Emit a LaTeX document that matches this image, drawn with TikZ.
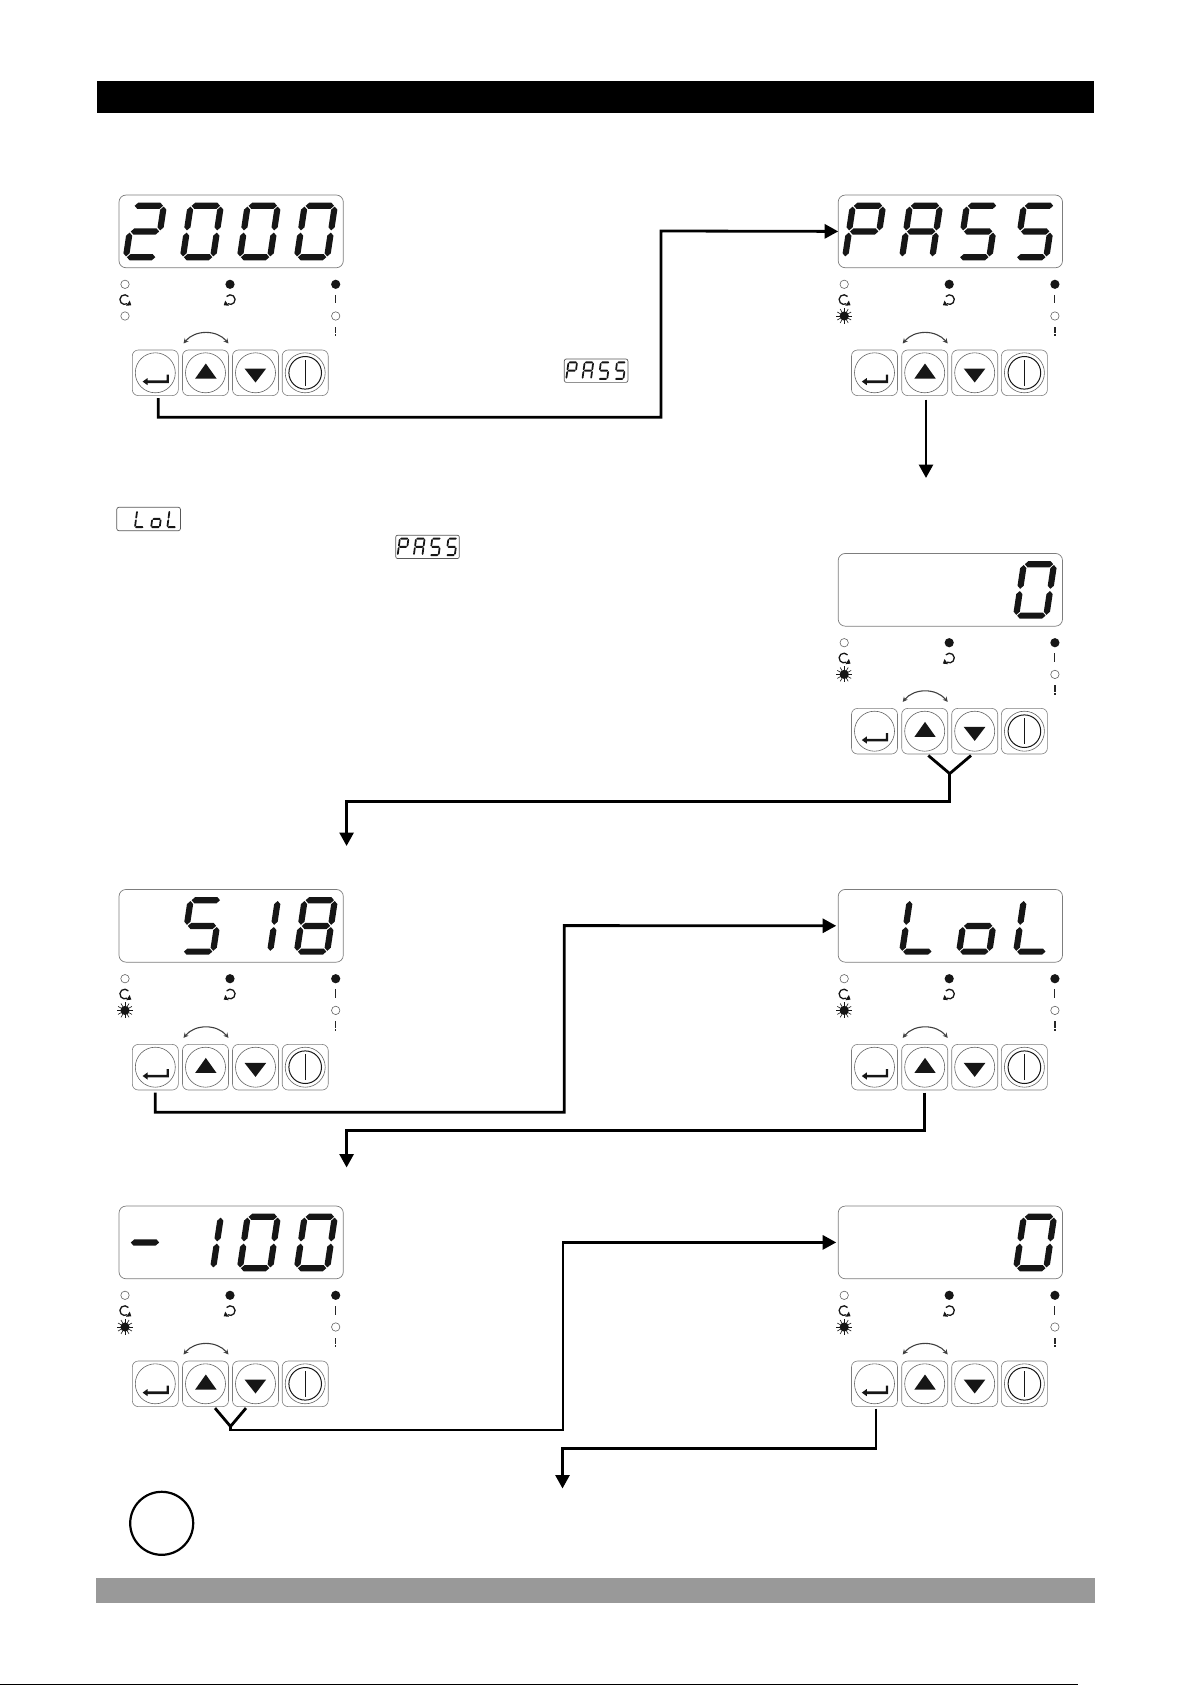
\documentclass[tikz,border=0pt]{standalone}
\usepackage{xcolor}
\usepackage{tikz}
\usetikzlibrary{arrows.meta,positioning,calc}
\definecolor{panelgray}{RGB}{125, 125, 125}
\definecolor{footgray}{RGB}{153, 153, 153}
\definecolor{segblack}{RGB}{22, 22, 22}

\tikzset{
    dispbox/.style={draw=panelgray, line width=0.7pt, rounded corners=7pt, inner sep=0pt, outer sep=0pt,
        minimum width=224.3pt, minimum height=72.7pt},
    keybox/.style={draw=panelgray, line width=0.6pt, rounded corners=6pt, inner sep=0pt, outer sep=0pt,
        minimum width=46pt, minimum height=45.6pt},
    keyline/.style={draw=panelgray!80!black, line width=0.6pt},
    thumbbox/.style={draw=panelgray!70!black, line width=0.7pt, rounded corners=2pt},
    flow/.style={line width=2.8pt, line join=miter, -{Triangle[length=13.5pt,width=14pt]}},
    branch/.style={line width=2.8pt},
    swap/.style={draw=black!75, line width=1.1pt, {Stealth[length=5pt,width=5pt]}-{Stealth[length=5pt,width=5pt]}},
    turn/.style={segblack, line width=1.3pt}
}

% Seven segments of one digit, baseline at 0, slanted by the caller
\newcommand{\segh}{3.1}
\newcommand{\seghoriz}[3]{\fill[segblack] (#1,#3) -- (#1+\segh,#3+\segh) -- (#2-\segh,#3+\segh) -- (#2,#3) -- (#2-\segh,#3-\segh) -- (#1+\segh,#3-\segh) -- cycle;}
\newcommand{\segvert}[3]{\fill[segblack] (#1,#2) -- (#1+\segh,#2+\segh) -- (#1+\segh,#3-\segh) -- (#1,#3) -- (#1-\segh,#3-\segh) -- (#1-\segh,#2+\segh) -- cycle;}
\newcommand{\dsega}{\seghoriz{3.8}{32.2}{54.2}}
\newcommand{\dsegb}{\segvert{33}{29.6}{53.4}}
\newcommand{\dsegc}{\segvert{33}{3.6}{27.4}}
\newcommand{\dsegd}{\seghoriz{3.8}{32.2}{2.8}}
\newcommand{\dsege}{\segvert{2.8}{3.6}{27.4}}
\newcommand{\dsegf}{\segvert{2.8}{29.6}{53.4}}
\newcommand{\dsegg}{\seghoriz{3.8}{32.2}{28.5}}

\newcommand{\glyphblank}{}
\newcommand{\glyphzero}{a,b,c,d,e,f}
\newcommand{\glyphone}{b,c}
\newcommand{\glyphtwo}{a,b,g,e,d}
\newcommand{\glypheight}{a,b,c,d,e,f,g}
\newcommand{\glyphfive}{a,f,g,c,d}
\newcommand{\glyphP}{a,b,g,f,e}
\newcommand{\glyphA}{a,b,c,e,f,g}
\newcommand{\glyphL}{f,e,d}
\newcommand{\glypho}{g,c,d,e}
\newcommand{\glyphdash}{g}

\newcommand{\sevenseg}[2]{%
    \begin{scope}[shift={(#1,65)}, y=1pt, xslant=0.15]
        \foreach \s in #2 {\csname dseg\s\endcsname}
    \end{scope}}
\newcommand{\dispword}[4]{\sevenseg{3.7}{#1}\sevenseg{60.7}{#2}\sevenseg{117.7}{#3}\sevenseg{174.7}{#4}}

% Indicator lamps
\newcommand{\ledoff}[2]{\draw[keyline] (#1,#2) circle (4.2pt);}
\newcommand{\ledon}[2]{\fill[segblack] (#1,#2) circle (4.6pt);}
\newcommand{\ledblink}[2]{%
    \fill[segblack] (#1,#2) circle (4.6pt);
    \foreach \a in {0,30,...,330} \draw[segblack, line width=0.6pt] ($(#1,#2)+(\a:4pt)$) -- ($(#1,#2)+(\a:8pt)$);}

% Turning mark beside a lamp: centre, then 1 or -1 for its sense
\newcommand{\turnmark}[3]{%
    \begin{scope}[shift={(#1,#2)}, y=1pt, xscale=#3]
        \draw[turn] (40:4.8) arc (40:300:4.8);
        \fill[segblack] (1.5,-6.2) -- (6.6,-5.6) -- (5,-1) -- cycle;
    \end{scope}}

% One whole front panel: name, left, top, digits, state of the lower left lamp
\newcommand{\panel}[5]{%
    \begin{scope}[shift={(#2,#3)}]
        \node[dispbox] (#1-disp) at (112.15,36.4) {};
        #4
        % Lamps and their marks
        \ledoff{6}{89.3}
        \turnmark{5.7}{104.6}{1}
        #5{6}{121}
        \ledon{111}{89.3}
        \turnmark{111.3}{104.6}{-1}
        \ledon{216.7}{89.3}
        \draw[line width=1.1pt, black!85] (216.7,100) -- (216.7,108.5);
        \ledoff{216.7}{121}
        \draw[line width=1.4pt, black!85, dash pattern=on 6.4pt off 1pt on 2pt] (216.7,132) -- (216.7,141.4);
        % Keys
        \draw[swap] (64.5,148.5) .. controls (76,134.5) and (98,134.5) .. (109.5,148.5);
        \node[keybox] (#1-enter) at (36.3,177.8) {};
        \node[keybox] (#1-up) at (86.5,177.8) {};
        \node[keybox] (#1-down) at (136.5,177.8) {};
        \node[keybox] (#1-power) at (186.2,177.8) {};
        \foreach \kx in {36.3,86.5,136.5,186.2} \draw[keyline] (\kx,177.8) circle (20pt);
        \fill[segblack] (49.8,179.6) -- (49.8,188) -- (28.6,188) -- (28.6,190.2) -- (23.6,186.6) -- (28.6,183) -- (28.6,185.4) -- (47.6,185.4) -- (47.6,179.6) -- cycle;
        \fill[segblack] (76.2,183.5) -- (97.5,183.5) -- (86.8,168.5) -- cycle;
        \fill[segblack] (125.5,173.5) -- (147.2,173.5) -- (136.5,187.5) -- cycle;
        \draw[line width=1pt, segblack] (186.2,177.8) circle (16.3pt);
        \draw[line width=0.7pt, segblack] (186.2,165) -- (186.2,190.5);
    \end{scope}}

% Small picture of a display, set in the running text
\newcommand{\thumbdisp}[3]{%
    \begin{scope}[shift={(#1,#2)}, xscale=0.284, yscale=0.32]
        \draw[thumbbox] (0,0) rectangle (224,73);
        #3
    \end{scope}}

\begin{document}
\begin{tikzpicture}[x=1pt, y=-1pt]
    \useasboundingbox (0,0) rectangle (1193,1685);

    % Header and footer bands
    \fill[black] (97,80.6) rectangle (1094,112.8);
    \fill[footgray] (96,1577.8) rectangle (1095,1602.8);
    \draw[line width=1.4pt] (0,1684.2) -- (1078,1684.2);

    % Panels, left column then right column
    \panel{one}{119}{195}{\dispword{\glyphtwo}{\glyphzero}{\glyphzero}{\glyphzero}}{\ledoff}
    \panel{two}{838.2}{195}{\dispword{\glyphP}{\glyphA}{\glyphfive}{\glyphfive}}{\ledblink}
    \panel{three}{838.2}{553.4}{\dispword{\glyphblank}{\glyphblank}{\glyphblank}{\glyphzero}}{\ledblink}
    \panel{four}{119}{889.4}{\dispword{\glyphblank}{\glyphfive}{\glyphone}{\glypheight}}{\ledblink}
    \panel{five}{838.2}{889.4}{\dispword{\glyphblank}{\glyphL}{\glypho}{\glyphL}}{\ledblink}
    \panel{six}{119}{1206}{\dispword{\glyphdash}{\glyphone}{\glyphzero}{\glyphzero}}{\ledblink}
    \panel{seven}{838.2}{1206}{\dispword{\glyphblank}{\glyphblank}{\glyphblank}{\glyphzero}}{\ledblink}

    % Small displays
    \thumbdisp{564.3}{359}{\dispword{\glyphP}{\glyphA}{\glyphfive}{\glyphfive}}
    \thumbdisp{116.8}{507.3}{\dispword{\glyphblank}{\glyphL}{\glypho}{\glyphL}}
    \thumbdisp{395.7}{535.2}{\dispword{\glyphP}{\glyphA}{\glyphfive}{\glyphfive}}

    % Note circle
    \node[draw, circle, line width=2.2pt, minimum size=63pt, inner sep=0pt] (note) at (161.7,1523.3) {};

    % Free ends of the connectors
    \coordinate (two-out) at (926,478);
    \coordinate (three-fork) at ($(three-up.south)!0.5!(three-down.south)+(0,19.6)$);
    \coordinate (four-in) at (346.6,846);
    \coordinate (six-in) at (346.6,1167.5);
    \coordinate (six-fork) at ($(six-up.south)!0.5!(six-down.south)+(0,19.8)$);
    \coordinate (next-in) at (562.5,1488.5);

    % Connectors
    \draw[flow, shorten <=2.5pt] ([xshift=3pt]one-enter.south) |- (661,417.3) -- (661,231) -- (two-disp.west);
    \draw[flow, shorten <=4pt] (two-out |- two-up.south) -- (two-out);
    \draw[branch] ($(three-up.south)+(3.6,1.5)$) -- (three-fork) -- ($(three-down.south)+(-3.7,1.5)$);
    \draw[flow] (three-fork) |- (four-in |- 0,801.5) -- (four-in);
    \draw[flow, shorten <=2.5pt, shorten >=2pt] (four-enter.south) |- (564.2,1112.3) -- (564.2,925.6) -- (five-disp.west);
    \draw[flow, shorten <=2.5pt] (five-up.south) |- (six-in |- 0,1130.7) -- (six-in);
    \draw[branch] ($(six-up.south)+(9.5,1.5)$) -- (six-fork) -- ($(six-down.south)+(-9.5,1.5)$);
    \draw[flow, shorten >=2pt] (six-fork) |- (563,1430) -- (563,1242.4) -- (seven-disp.west);
    \draw[flow, shorten <=2pt] ([xshift=1.5pt]seven-enter.south) |- (next-in |- 0,1448.3) -- (next-in);
\end{tikzpicture}
\end{document}
